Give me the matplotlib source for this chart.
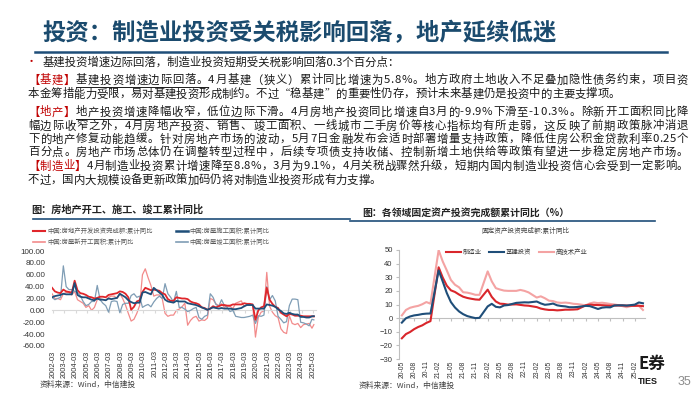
import matplotlib
matplotlib.use("Agg")
import matplotlib.pyplot as plt
from matplotlib.lines import Line2D
from matplotlib.ticker import FormatStrFormatter

plt.rcParams['font.family'] = ['Noto Sans CJK SC', 'DejaVu Sans']

# ---------------- 数据 ----------------
# 左图：房地产累计同比（%），每年取 2/5/8/11 月
re_dates = [f"{y}-{m:02d}" for y in range(2002, 2025) for m in (2, 5, 8, 11)] + ["2025-02", "2025-04"]

re_invest = [38, 32, 30, 29,  35, 32, 31, 30,  50, 34, 29, 28,  26, 23, 22, 20,
             21, 23, 23, 22,  26, 27, 28, 29,  32, 31, 28, 22,  1, 6, 15, 17,
             31, 38, 36, 34,  35, 34, 33, 29,  27, 19, 16, 16,  22, 21, 20, 20,
             19, 15, 13, 12,  10, 5, 4, 1,  3, 7, 5, 7,  9, 9, 8, 8,
             10, 10, 10, 10,  12, 11, 11, 10,  -16, 0, 5, 7,  38, 18, 11, 6,
             4, -4, -7, -10,  -6, -7, -9, -9,  -9, -10, -10, -10,  -10, -10.3]

re_new_start = [28, 20, 20, 18,  28, 30, 30, 26,  32, 18, 15, 12,  5, 8, 0, 5,
                18, 20, 18, 17,  22, 24, 24, 20,  28, 20, 9, -5,  -18, -15, -5, 8,
                60, 70, 55, 42,  24, 26, 26, 20,  -5, -10, -8, -8,  0, 2, 6, 12,
                -25, -17, -12, -10,  -18, -16, -17, -13,  20, 18, 11, 8,  11, 5, 7, 7,
                3, 12, 14, 16,  6, 10, 9, 10,  -45, -12, -3, -1,  64, 7, -3, -9,
                -12, -31, -37, -39,  -9, -22, -24, -22,  -29, -24, -23, -22,  -30, -24]

re_under_constr = [22, 24, 25, 26,  28, 27, 27, 27,  46, 26, 23, 22,  22, 20, 18, 17,
                   20, 18, 18, 17,  20, 19, 20, 21,  28, 25, 22, 17,  14, 12, 13, 13,
                   30, 31, 29, 27,  38, 34, 30, 26,  18, 15, 14, 13,  16, 15, 15, 15,
                   12, 11, 10, 9,  7, 5, 3, 1,  3, 5, 4, 3,  4, 3, 3, 3,
                   2, 2, 3, 4,  7, 9, 9, 9,  3, 3, 3, 3,  10, 9, 8, 6,
                   2, -1, -5, -6,  -4, -6, -7, -7,  -11, -11, -12, -12,  -10, -9.7]

re_completed = [22, 18, 20, 22,  75, 40, 35, 35,  32, 30, 25, 15,  8, 10, 15, 15,
                42, 18, 12, 8,  -3, 15, 16, 15,  -4, 10, 12, 12,  25, 28, 22, 24,
                5, 8, 10, 6,  14, 20, 24, 20,  45, 28, 22, 14,  32, 5, 5, 2,
                -2, 0, 3, 5,  -12, -15, -10, -8,  28, 22, 10, 7,  18, 8, 5, -2,
                0, -10, -11, -12,  -12, -11, -10, -8,  -22, -9, -10, -8,  40, 18, 25, 16,
                -10, -15, -21, -19,  8, 19, 19, 18,  -20, -21, -23, -26,  -15, -16]

re_labels = ['中国:房地产开发投资完成额:累计同比', '中国:房屋新开工面积:累计同比',
             '中国:房屋施工面积:累计同比', '中国:房屋竣工面积:累计同比']

# 右图：固定资产投资完成额累计同比（%），无1月数据
fai_months = ([f"20-{m:02d}" for m in range(5, 13)]
              + [f"{y}-{m:02d}" for y in (21, 22, 23, 24) for m in range(2, 13)]
              + ["25-02", "25-03", "25-04"])

fai_manufacturing = [-14.8, -11.7, -10.2, -8.1, -6.5, -5.3, -3.5, -2.2,
                     37.3, 29.8, 23.8, 20.4, 19.2, 17.3, 15.7, 14.8, 14.2, 13.7, 13.5,
                     20.9, 15.6, 12.2, 10.6, 10.4, 9.9, 10.0, 10.1, 9.7, 9.3, 9.1,
                     8.1, 7.0, 6.4, 6.0, 6.0, 5.7, 5.9, 6.2, 6.2, 6.3, 6.5,
                     9.4, 9.9, 9.7, 9.6, 9.5, 9.3, 9.1, 9.2, 9.3, 9.3, 9.2,
                     9.0, 9.1, 8.8]

fai_infra = [-3.3, -0.1, 1.2, 2.0, 2.4, 3.0, 3.3, 3.4,
             35.0, 26.9, 18.4, 11.8, 7.8, 4.9, 2.9, 1.5, 0.7, 0.0, 0.2,
             8.6, 10.5, 8.3, 7.9, 9.3, 9.6, 10.4, 11.2, 11.4, 11.6, 11.5,
             12.2, 10.8, 9.8, 10.1, 10.7, 9.4, 8.9, 8.6, 8.0, 8.0, 8.2,
             9.0, 8.8, 7.8, 6.7, 7.7, 8.0, 7.9, 9.3, 9.4, 9.4, 9.2,
             9.9, 11.5, 10.9]

fai_hightech = [2.0, 6.0, 7.6, 8.4, 9.0, 10.2, 11.8, 10.6,
                49.9, 41.6, 35.0, 28.0, 24.5, 22.6, 19.0, 18.7, 18.0, 17.1, 17.1,
                34.3, 27.0, 22.0, 21.0, 20.2, 20.0, 20.0, 20.0, 20.7, 20.0, 18.9,
                15.1, 16.0, 14.6, 12.8, 12.5, 11.5, 11.2, 11.4, 11.1, 10.5, 10.3,
                9.4, 10.8, 11.5, 11.0, 11.3, 10.9, 10.4, 10.0, 9.5, 8.8, 8.0,
                9.6, 9.0, 6.0]

fai_labels = ['制造业', '基建投资', '高技术产业']

# 正文文字
title = '投资：制造业投资受关税影响回落，地产延续低迷'
bullet = '基建投资增速边际回落，制造业投资短期受关税影响回落0.3个百分点：'
RED, BLK = '#C00000', '#1A1A1A'
body_lines = [
    (80, True, [('【基建】', RED, False), ('基建投资增速边际回落。', BLK, True),
                ('4月基建（狭义）累计同比增速为5.8%。地方政府土地收入不足叠加隐性债务约束，项目资', BLK, False)]),
    (94, False, [('本金筹措能力受限，易对基建投资形成制约。不过“稳基建”的重要性仍存，预计未来基建仍是投资中的主要支撑项。', BLK, False)]),
    (112, True, [('【地产】', RED, False), ('地产投资增速降幅收窄，低位边际下滑。', BLK, True),
                 ('4月房地产投资同比增速自3月的-9.9%下滑至-10.3%。除新开工面积同比降', BLK, False)]),
    (126, True, [('幅边际收窄之外，4月房地产投资、销售、竣工面积、一线城市二手房价等核心指标均有所走弱，这反映了前期政策脉冲消退', BLK, False)]),
    (139, True, [('下的地产修复动能趋缓。针对房地产市场的波动，5月7日金融发布会适时部署增量支持政策，降低住房公积金贷款利率0.25个', BLK, False)]),
    (152, True, [('百分点。房地产市场总体仍在调整转型过程中，后续专项债支持收储、控制新增土地供给等政策有望进一步稳定房地产市场。', BLK, False)]),
    (166, True, [('【制造业】', RED, False),
                 ('4月制造业投资累计增速降至8.8%，3月为9.1%，4月关税战骤然升级，短期内国内制造业投资信心会受到一定影响。', BLK, False)]),
    (180, False, [('不过，国内大规模设备更新政策加码仍将对制造业投资形成有力支撑。', BLK, False)]),
]

# ---------------- 画布 ----------------
W, H = 700, 394
fig = plt.figure(figsize=(7, 3.94), dpi=100)
fig.patch.set_facecolor('white')


def fx(px):
    return px / W


def fy(py):
    return 1 - py / H


renderer = fig.canvas.get_renderer()
_cache = {}


def char_w(ch, size):
    # 全角字符按 1em 计，半角字符实际测量
    if ord(ch) > 0x2000:
        return size * 100 / 72
    if (ch, size) not in _cache:
        t1 = fig.text(0, 0, 'x' + ch + 'x', fontsize=size)
        t2 = fig.text(0, 0, 'xx', fontsize=size)
        _cache[(ch, size)] = t1.get_window_extent(renderer).width - t2.get_window_extent(renderer).width
        t1.remove()
        t2.remove()
    return _cache[(ch, size)]


def draw_line(y, runs, justify, left=28, right=688, size=8.2):
    chars = [(ch, c, u) for txt, c, u in runs for ch in txt]
    widths = [char_w(ch, size) for ch, _, _ in chars]
    gap = (right - left - sum(widths)) / (len(chars) - 1) if justify else 0
    x = left
    ul = []
    for (ch, c, u), w in zip(chars, widths):
        fig.text(fx(x), fy(y), ch, color=c, fontsize=size, va='center', ha='left')
        if u:
            ul.append((x, x + w))
        x += w + gap
    if ul:
        fig.add_artist(Line2D([fx(ul[0][0]), fx(ul[-1][1])], [fy(y + 6.5)] * 2, color=BLK, lw=0.7))


# 标题
fig.text(fx(42), fy(33), title, fontsize=16.8, fontweight='bold', color='#1B4B6E', va='center')
fig.add_artist(Line2D([fx(35), fx(667)], [fy(52)] * 2, color='#1F4E79', lw=1.8))

fig.text(fx(26), fy(62), '•', color=RED, fontsize=8, va='center')
fig.text(fx(43), fy(62), bullet, color=BLK, fontsize=8.2, va='center')
for y, just, runs in body_lines:
    draw_line(y, runs, just)

# 图标题
fig.text(fx(31), fy(210), '图：房地产开工、施工、竣工累计同比', fontsize=7.3, fontweight='bold', color='#222222', va='center')
fig.text(fx(362), fy(213), '图：各领域固定资产投资完成额累计同比（%）', fontsize=7.1, fontweight='bold', color='#222222', va='center')
fig.add_artist(Line2D([fx(33), fx(350)], [fy(219)] * 2, color='#1F4E79', lw=1.2))
fig.add_artist(Line2D([fx(350), fx(655)], [fy(221)] * 2, color='#1F4E79', lw=1.2))

# ---------------- 左图 ----------------
def to_year(s):
    y, m = s.split('-')
    return int(y) + (int(m) - 1) / 12


xs = [to_year(d) for d in re_dates]
ax1 = fig.add_axes([fx(52), fy(346), fx(264), 95 / H])
for s in ('top', 'right', 'left'):
    ax1.spines[s].set_visible(False)
ax1.spines['bottom'].set_position(('data', 0))
ax1.spines['bottom'].set_color('#D9D9D9')
ax1.plot(xs, re_new_start, color='#F28B8B', lw=0.9, zorder=2)
ax1.plot(xs, re_completed, color='#7F9DB5', lw=0.9, zorder=3)
ax1.plot(xs, re_invest, color='#E0262B', lw=1.3, zorder=4)
ax1.plot(xs, re_under_constr, color='#1F4E79', lw=1.3, zorder=5)
ax1.set_xlim(2002.08, 2025.44)
ax1.set_ylim(-60, 100)
ax1.set_yticks(range(-60, 101, 20))
ax1.yaxis.set_major_formatter(FormatStrFormatter('%.2f'))
yrs = list(range(2002, 2026))
ax1.set_xticks([y + 2 / 12 for y in yrs])
ax1.set_xticklabels([f'{y}-03' for y in yrs])
ax1.tick_params(axis='x', length=2, color='#D9D9D9', pad=26.8, labelrotation=90,
                labelsize=5.4, labelcolor='#333333')
ax1.tick_params(axis='y', length=0, pad=5, labelsize=5.8, labelcolor='#333333')
for lab in ax1.get_xticklabels() + ax1.get_yticklabels():
    lab.set_family('Liberation Sans')
ax1.patch.set_alpha(0)

h1 = [Line2D([], [], color='#E0262B', lw=1.5), Line2D([], [], color='#F28B8B', lw=1.2),
      Line2D([], [], color='#1F4E79', lw=1.8), Line2D([], [], color='#7F9DB5', lw=1.2)]
fig.legend(h1, re_labels, loc='upper left', bbox_to_anchor=(fx(33), fy(227)), ncol=2,
           frameon=False, fontsize=4.6, labelcolor='#595959', handlelength=1.9,
           handletextpad=0.3, columnspacing=3.6, labelspacing=0.45, borderpad=0, borderaxespad=0)

fig.text(fx(40), fy(385), '资料来源：Wind，中信建投', fontsize=5.6, color='#404040', va='center')

# ---------------- 右图 ----------------
def month_idx(s):
    y, m = s.split('-')
    return (int(y) - 20) * 12 + int(m) - 5


mi = [month_idx(s) for s in fai_months]
ax2 = fig.add_axes([fx(399), fy(359), fx(246), 109 / H])
for s in ('top', 'right'):
    ax2.spines[s].set_visible(False)
ax2.spines['left'].set_color('#BFBFBF')
ax2.spines['bottom'].set_position(('data', 0))
ax2.spines['bottom'].set_color('#BFBFBF')
ax2.plot(mi, fai_hightech, color='#F4A3A3', lw=1.5, zorder=2)
ax2.plot(mi, fai_manufacturing, color='#D9262B', lw=1.5, zorder=3)
ax2.plot(mi, fai_infra, color='#1F4E79', lw=1.5, zorder=4)
ax2.set_xlim(-0.7, 59.5)
ax2.set_ylim(-30, 50)
ax2.set_yticks(range(-30, 51, 10))
tick_i = list(range(0, 58, 3))
ax2.set_xticks(tick_i)
ax2.set_xticklabels([f'{20 + (i + 4) // 12}-{(i + 4) % 12 + 1:02d}' for i in tick_i])
ax2.tick_params(axis='x', length=2, color='#BFBFBF', pad=28.5, labelrotation=90,
                labelsize=4.9, labelcolor='#333333')
ax2.tick_params(axis='y', length=2, color='#BFBFBF', pad=2.5, labelsize=5.5, labelcolor='#333333')
for lab in ax2.get_xticklabels() + ax2.get_yticklabels():
    lab.set_family('Liberation Sans')
ax2.patch.set_alpha(0)

h2 = [Line2D([], [], color='#D9262B', lw=1.5), Line2D([], [], color='#1F4E79', lw=1.5),
      Line2D([], [], color='#F4A3A3', lw=1.5)]
fig.legend(h2, fai_labels, loc='center left', bbox_to_anchor=(fx(446), fy(252)), ncol=3,
           frameon=False, fontsize=4.6, labelcolor='#404040', handlelength=2.3,
           handletextpad=0.3, columnspacing=1.2, borderpad=0, borderaxespad=0)
fig.text(fx(525), fy(231), '固定资产投资完成额:累计同比', fontsize=4.8, color='#404040', ha='center', va='center')

fig.text(fx(359), fy(386), '资料来源：Wind，中信建投', fontsize=5.6, color='#404040', va='center')

# 角标
fig.text(fx(639), fy(364), 'E券', fontsize=12, fontweight='bold', color='#1A1A1A', va='center')
fig.text(fx(638), fy(381), 'TIES', fontsize=6.5, fontweight='bold', color='#1A1A1A', va='center',
         family='Liberation Sans')
fig.text(fx(678), fy(382), '35', fontsize=9, color='#8C8C8C', va='center', family='Liberation Sans')

fig.savefig('out.png', dpi=100, facecolor='white')
